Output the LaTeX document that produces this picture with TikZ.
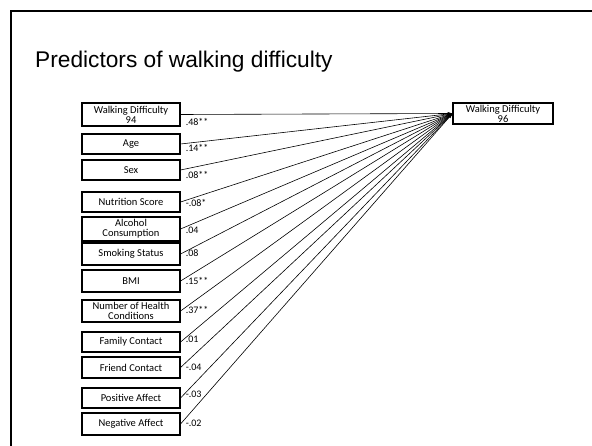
\documentclass[tikz,border=0pt]{standalone}
\usepackage{fontspec}
\setmainfont{Carlito}
\newfontfamily\titlefont{Liberation Sans}
\usetikzlibrary{arrows.meta}
\begin{document}
\begin{tikzpicture}[x=1pt,y=-1pt,
  varbox/.style={draw, line width=1.1pt, minimum width=98pt, inner sep=0pt, align=center,
     font=\fontsize{10.5}{10}\selectfont},
  coef/.style={anchor=west, inner sep=0pt, font=\fontsize{10}{10}\selectfont},
  path/.style={line width=0.6pt, -{Stealth[length=5pt,width=3pt]}},
  frame/.style={line width=2pt}]
\useasboundingbox (0,0) rectangle (592,446);
\draw[frame] (11,450) -- (11,11) -- (600,11);
\node[anchor=base west, inner sep=0pt, font=\titlefont\fontsize{22.7}{22.7}\selectfont] (title) at (35,68) {Predictors of walking difficulty};

\node[varbox, minimum height=23pt] (wd) at (131,114.5) {Walking Difficulty\\94};
\node[varbox, minimum height=20pt] (age) at (131,144) {Age};
\node[varbox, minimum height=20pt] (sex) at (131,170) {Sex};
\node[varbox, minimum height=20pt] (nut) at (131,202) {Nutrition Score};
\node[varbox, minimum height=24pt] (alc) at (131,229) {Alcohol\\Consumption};
\node[varbox, minimum height=22pt] (smk) at (131,254) {Smoking Status};
\node[varbox, minimum height=22pt] (bmi) at (131,281) {BMI};
\node[varbox, minimum height=22pt] (nhc) at (131,311) {Number of Health\\Conditions};
\node[varbox, minimum height=20pt] (fam) at (131,342) {Family Contact};
\node[varbox, minimum height=21pt] (fri) at (131,367.5) {Friend Contact};
\node[varbox, minimum height=20pt] (pos) at (131,398) {Positive Affect};
\node[varbox, minimum height=22pt] (neg) at (131,424) {Negative Affect};
\node[varbox, minimum width=100pt, minimum height=21pt] (out) at (503,113.5) {Walking Difficulty\\96};

\foreach \v in {wd,age,sex,nut,alc,smk,bmi,nhc,fam,fri,pos,neg}
  \draw[path] (\v.east) -- (out.west);

\node[coef] (c1) at ([xshift=5pt,yshift=-7pt]wd.east) {.48**};
\node[coef] (c2) at ([xshift=5pt,yshift=-4pt]age.east) {.14**};
\node[coef] (c3) at ([xshift=5pt,yshift=-5pt]sex.east) {.08**};
\node[coef] (c4) at ([xshift=5pt,yshift=-1pt]nut.east) {-.08*};
\node[coef] (c5) at ([xshift=5pt,yshift=-1pt]alc.east) {.04};
\node[coef] (c6) at ([xshift=5pt,yshift=1pt]smk.east) {.08};
\node[coef] (c7) at ([xshift=5pt,yshift=0pt]bmi.east) {.15**};
\node[coef] (c8) at ([xshift=5pt,yshift=1pt]nhc.east) {.37**};
\node[coef] (c9) at ([xshift=5pt,yshift=3pt]fam.east) {.01};
\node[coef] (c10) at ([xshift=5pt,yshift=0pt]fri.east) {-.04};
\node[coef] (c11) at ([xshift=5pt,yshift=4pt]pos.east) {-.03};
\node[coef] (c12) at ([xshift=5pt,yshift=1pt]neg.east) {-.02};
\end{tikzpicture}
\end{document}
